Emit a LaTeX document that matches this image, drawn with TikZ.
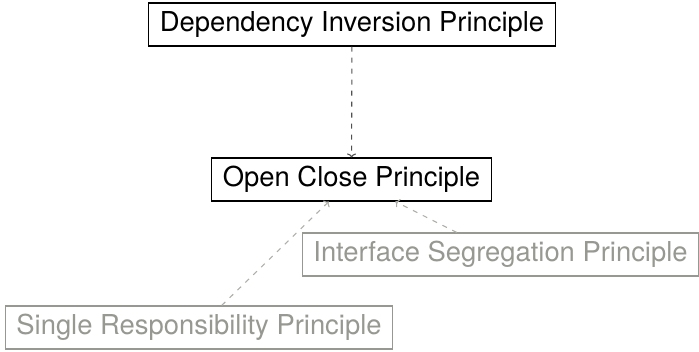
\documentclass[tikz,border=0pt]{standalone}
\usepackage{fontspec}
\setmainfont{TeX Gyre Heros}
\usetikzlibrary{arrows.meta}
\definecolor{faded}{RGB}{152,152,146}
\definecolor{fadedline}{RGB}{175,175,170}
\definecolor{darkline}{RGB}{80,80,80}
\begin{document}
\begin{tikzpicture}[x=1pt,y=-1pt,
  font=\fontsize{27.4}{33}\selectfont,
  principle/.style={draw=black, line width=1.1pt, inner xsep=11pt, inner ysep=8.5pt,
    text height=20pt, text depth=6pt},
  minor/.style={principle, draw=faded, text=faded},
  dep/.style={darkline, line width=1.1pt, dash pattern=on 5pt off 6pt,
    -{To[length=4pt,width=9pt]}},
  weak/.style={dep, fadedline}]
\useasboundingbox (0,0) rectangle (699,351);
\node[principle] (dip) at (352,24.5) {Dependency Inversion Principle};
\node[principle] (ocp) at (351.5,179.5) {Open Close Principle};
\node[minor] (isp) at (500.5,254.5) {Interface Segregation Principle};
\node[minor] (srp) at (199,327.5) {Single Responsibility Principle};
\draw[dep] (dip) -- (ocp);
\draw[weak] (isp) -- (ocp);
\draw[weak] (srp) -- (ocp);
\end{tikzpicture}
\end{document}
